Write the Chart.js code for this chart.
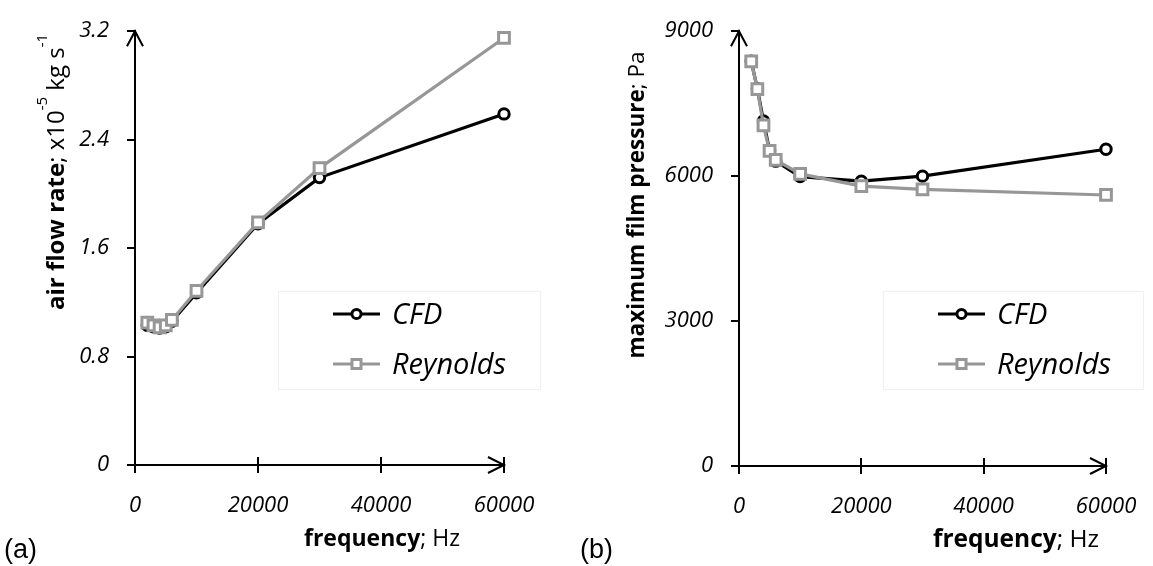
<!DOCTYPE html>
<html><head><meta charset="utf-8">
<script src="https://cdn.jsdelivr.net/npm/chart.js@4.4.1/dist/chart.umd.min.js"></script>
<style>
html,body{margin:0;padding:0;background:#fff;width:1153px;height:566px;overflow:hidden}
canvas{position:absolute;top:0}
#ca{left:0}
#cb{left:560px}
</style></head><body>
<canvas id="ca" width="560" height="566"></canvas>
<canvas id="cb" width="600" height="566"></canvas>
<script>
// ---- data ----
const frequencyHz = [2000, 3000, 4000, 5000, 6000, 10000, 20000, 30000, 60000];
const airFlowCFD = [1.03, 1.02, 1.01, 1.02, 1.06, 1.27, 1.78, 2.12, 2.59];
const airFlowReynolds = [1.05, 1.03, 1.015, 1.03, 1.07, 1.285, 1.79, 2.19, 3.15];
const pressureCFD = [8380, 7810, 7140, 6530, 6310, 5990, 5896, 6000, 6556];
const pressureReynolds = [8376, 7800, 7051, 6521, 6338, 6046, 5794, 5727, 5610];
const seriesNames = ['CFD', 'Reynolds'];
const xTickValues = [0, 20000, 40000, 60000];
const xTickLabels = ['0', '20000', '40000', '60000'];
const yTickValuesA = [0, 0.8, 1.6, 2.4, 3.2];
const yTickLabelsA = ['0', '0.8', '1.6', '2.4', '3.2'];
const yTickValuesB = [0, 3000, 6000, 9000];
const yTickLabelsB = ['0', '3000', '6000', '9000'];

const FONT = '"Open Sans", "DejaVu Sans", sans-serif';
const INK = '#000';
const GREY = '#979797';

function pts(ys) { return frequencyHz.map((x, i) => ({x: x, y: ys[i]})); }

function datasets(cfd, rey) {
  return [
    {label: seriesNames[0], data: pts(cfd), borderColor: '#000', backgroundColor: '#fff',
     borderWidth: 3.2, pointStyle: 'circle', pointRadius: 5.2, pointBorderWidth: 3,
     pointBackgroundColor: '#fff', pointBorderColor: '#000', order: 1, clip: false, tension: 0},
    {label: seriesNames[1], data: pts(rey), borderColor: GREY, backgroundColor: '#fff',
     borderWidth: 3.2, pointStyle: 'rect', pointRadius: 7.6, pointBorderWidth: 3,
     pointBackgroundColor: '#fff', pointBorderColor: GREY, order: 0, clip: false, tension: 0}
  ];
}

function drawRich(ctx, segs, cx, cy, size, rotate) {
  ctx.save();
  ctx.translate(cx, cy);
  if (rotate) ctx.rotate(-Math.PI / 2);
  const fontFor = s => (s.bold ? 'bold ' : '') + (s.sup ? Math.round(size * 0.62) : size) + 'px ' + FONT;
  let total = 0;
  segs.forEach(s => { ctx.font = fontFor(s); total += ctx.measureText(s.t).width; });
  let x = -total / 2;
  ctx.fillStyle = INK;
  ctx.textBaseline = 'alphabetic';
  ctx.textAlign = 'left';
  segs.forEach(s => {
    ctx.font = fontFor(s);
    ctx.fillText(s.t, x, s.sup ? -size * 0.38 : size * 0.35);
    x += ctx.measureText(s.t).width;
  });
  ctx.restore();
}

function decorPlugin(opts) {
  return {
    id: 'decor',
    afterDraw(chart) {
      const ctx = chart.ctx;
      const a = chart.chartArea;
      const xs = chart.scales.x;
      ctx.save();
      ctx.strokeStyle = '#000';
      ctx.lineWidth = 2;
      ctx.lineCap = 'butt';
      // inward halves of x ticks
      xTickValues.forEach(v => {
        if (v === 0) return;
        const px = Math.round(xs.getPixelForValue(v));
        ctx.beginPath(); ctx.moveTo(px, a.bottom); ctx.lineTo(px, a.bottom - 8); ctx.stroke();
      });
      // arrow on y axis
      const yx = Math.round(a.left);
      ctx.beginPath();
      ctx.moveTo(yx - 8, a.top + 15); ctx.lineTo(yx, a.top); ctx.lineTo(yx + 8, a.top + 15);
      ctx.stroke();
      // arrow on x axis
      const xr = Math.round(a.right);
      ctx.beginPath();
      ctx.moveTo(xr - 16, a.bottom - 8); ctx.lineTo(xr, a.bottom); ctx.lineTo(xr - 16, a.bottom + 8);
      ctx.stroke();

      // legend
      const L = opts.legend;
      ctx.strokeStyle = '#f1f1f1';
      ctx.lineWidth = 1;
      ctx.strokeRect(L.x + 0.5, L.y + 0.5, L.w, L.h);
      chart.data.datasets.forEach((ds, i) => {
        const ry = L.y + 23 + i * 50;
        const x0 = L.x + 55, x1 = L.x + 102, mx = (x0 + x1) / 2;
        ctx.strokeStyle = ds.borderColor;
        ctx.lineWidth = ds.borderWidth;
        ctx.beginPath(); ctx.moveTo(x0, ry); ctx.lineTo(x1, ry); ctx.stroke();
        ctx.fillStyle = '#fff';
        ctx.strokeStyle = ds.pointBorderColor;
        ctx.lineWidth = ds.pointBorderWidth;
        Chart.helpers.drawPoint(ctx, {pointStyle: ds.pointStyle, rotation: 0,
          radius: ds.pointStyle === 'rect' ? 6.4 : 4.6, borderWidth: ds.pointBorderWidth}, mx, ry);
        ctx.fillStyle = INK;
        ctx.font = 'italic 29px ' + FONT;
        ctx.textAlign = 'left';
        ctx.textBaseline = 'alphabetic';
        ctx.fillText(ds.label, L.x + 114, ry + 10);
      });

      // axis titles
      drawRich(ctx, opts.yTitle, opts.yTitlePos[0], opts.yTitlePos[1], opts.yTitleSize, true);
      drawRich(ctx, [{t: 'frequency', bold: true}, {t: '; Hz'}], opts.xTitlePos[0], opts.xTitlePos[1], opts.xTitleSize, false);

      // panel label
      ctx.fillStyle = '#000';
      ctx.font = '27px "Liberation Sans", Arial, sans-serif';
      ctx.textAlign = 'left';
      ctx.textBaseline = 'alphabetic';
      ctx.fillText(opts.panel, opts.panelPos[0], opts.panelPos[1]);
      ctx.restore();
    }
  };
}

function makeChart(id, cfd, rey, yVals, yLabels, yMax, yWidth, padRight, opts) {
  return new Chart(document.getElementById(id), {
    type: 'line',
    data: {datasets: datasets(cfd, rey)},
    options: {
      responsive: false,
      animation: false,
      devicePixelRatio: 1,
      layout: {padding: {top: 25, left: 0, right: padRight, bottom: 0}},
      plugins: {legend: {display: false}, tooltip: {enabled: false}, title: {display: false}},
      scales: {
        x: {
          type: 'linear', min: 0, max: 60000,
          afterBuildTicks: s => { s.ticks = xTickValues.map(v => ({value: v})); },
          afterFit: s => { s.height = opts.xHeight; },
          ticks: {callback: v => xTickLabels[xTickValues.indexOf(v)], autoSkip: false, maxRotation: 0,
                  color: INK, font: {family: FONT, size: 22, style: 'italic'}, padding: 20},
          grid: {drawOnChartArea: false, drawTicks: true, tickLength: 8, color: '#000', lineWidth: 2},
          border: {display: true, color: '#000', width: 2}
        },
        y: {
          type: 'linear', min: 0, max: yMax,
          afterBuildTicks: s => { s.ticks = yVals.map(v => ({value: v})); },
          afterFit: s => { s.width = yWidth; },
          ticks: {callback: v => yLabels[yVals.indexOf(v)], autoSkip: false,
                  color: INK, font: {family: FONT, size: 22, style: 'italic'}, padding: 18},
          grid: {drawOnChartArea: false, drawTicks: true, tickLength: 8, color: '#000', lineWidth: 2},
          border: {display: true, color: '#000', width: 2}
        }
      }
    },
    plugins: [decorPlugin(opts)]
  });
}

makeChart('ca', airFlowCFD, airFlowReynolds, yTickValuesA, yTickLabelsA, 3.2, 135, 56, {
  xHeight: 101,
  legend: {x: 278, y: 291, w: 262, h: 98},
  yTitle: [{t: 'air flow rate', bold: true}, {t: '; x10'}, {t: '-5', sup: true}, {t: ' kg s'}, {t: '-1', sup: true}],
  yTitleSize: 24, yTitlePos: [56, 172],
  xTitleSize: 23, xTitlePos: [382, 538],
  panel: '(a)', panelPos: [4, 558]
});

makeChart('cb', pressureCFD, pressureReynolds, yTickValuesB, yTickLabelsB, 9000, 179, 54, {
  xHeight: 100,
  legend: {x: 323, y: 291, w: 260, h: 98},
  yTitle: [{t: 'maximum film pressure', bold: true}, {t: '; Pa'}],
  yTitleSize: 22.5, yTitlePos: [76, 205],
  xTitleSize: 24.5, xTitlePos: [456, 538],
  panel: '(b)', panelPos: [20, 558]
});
</script>
</body></html>
